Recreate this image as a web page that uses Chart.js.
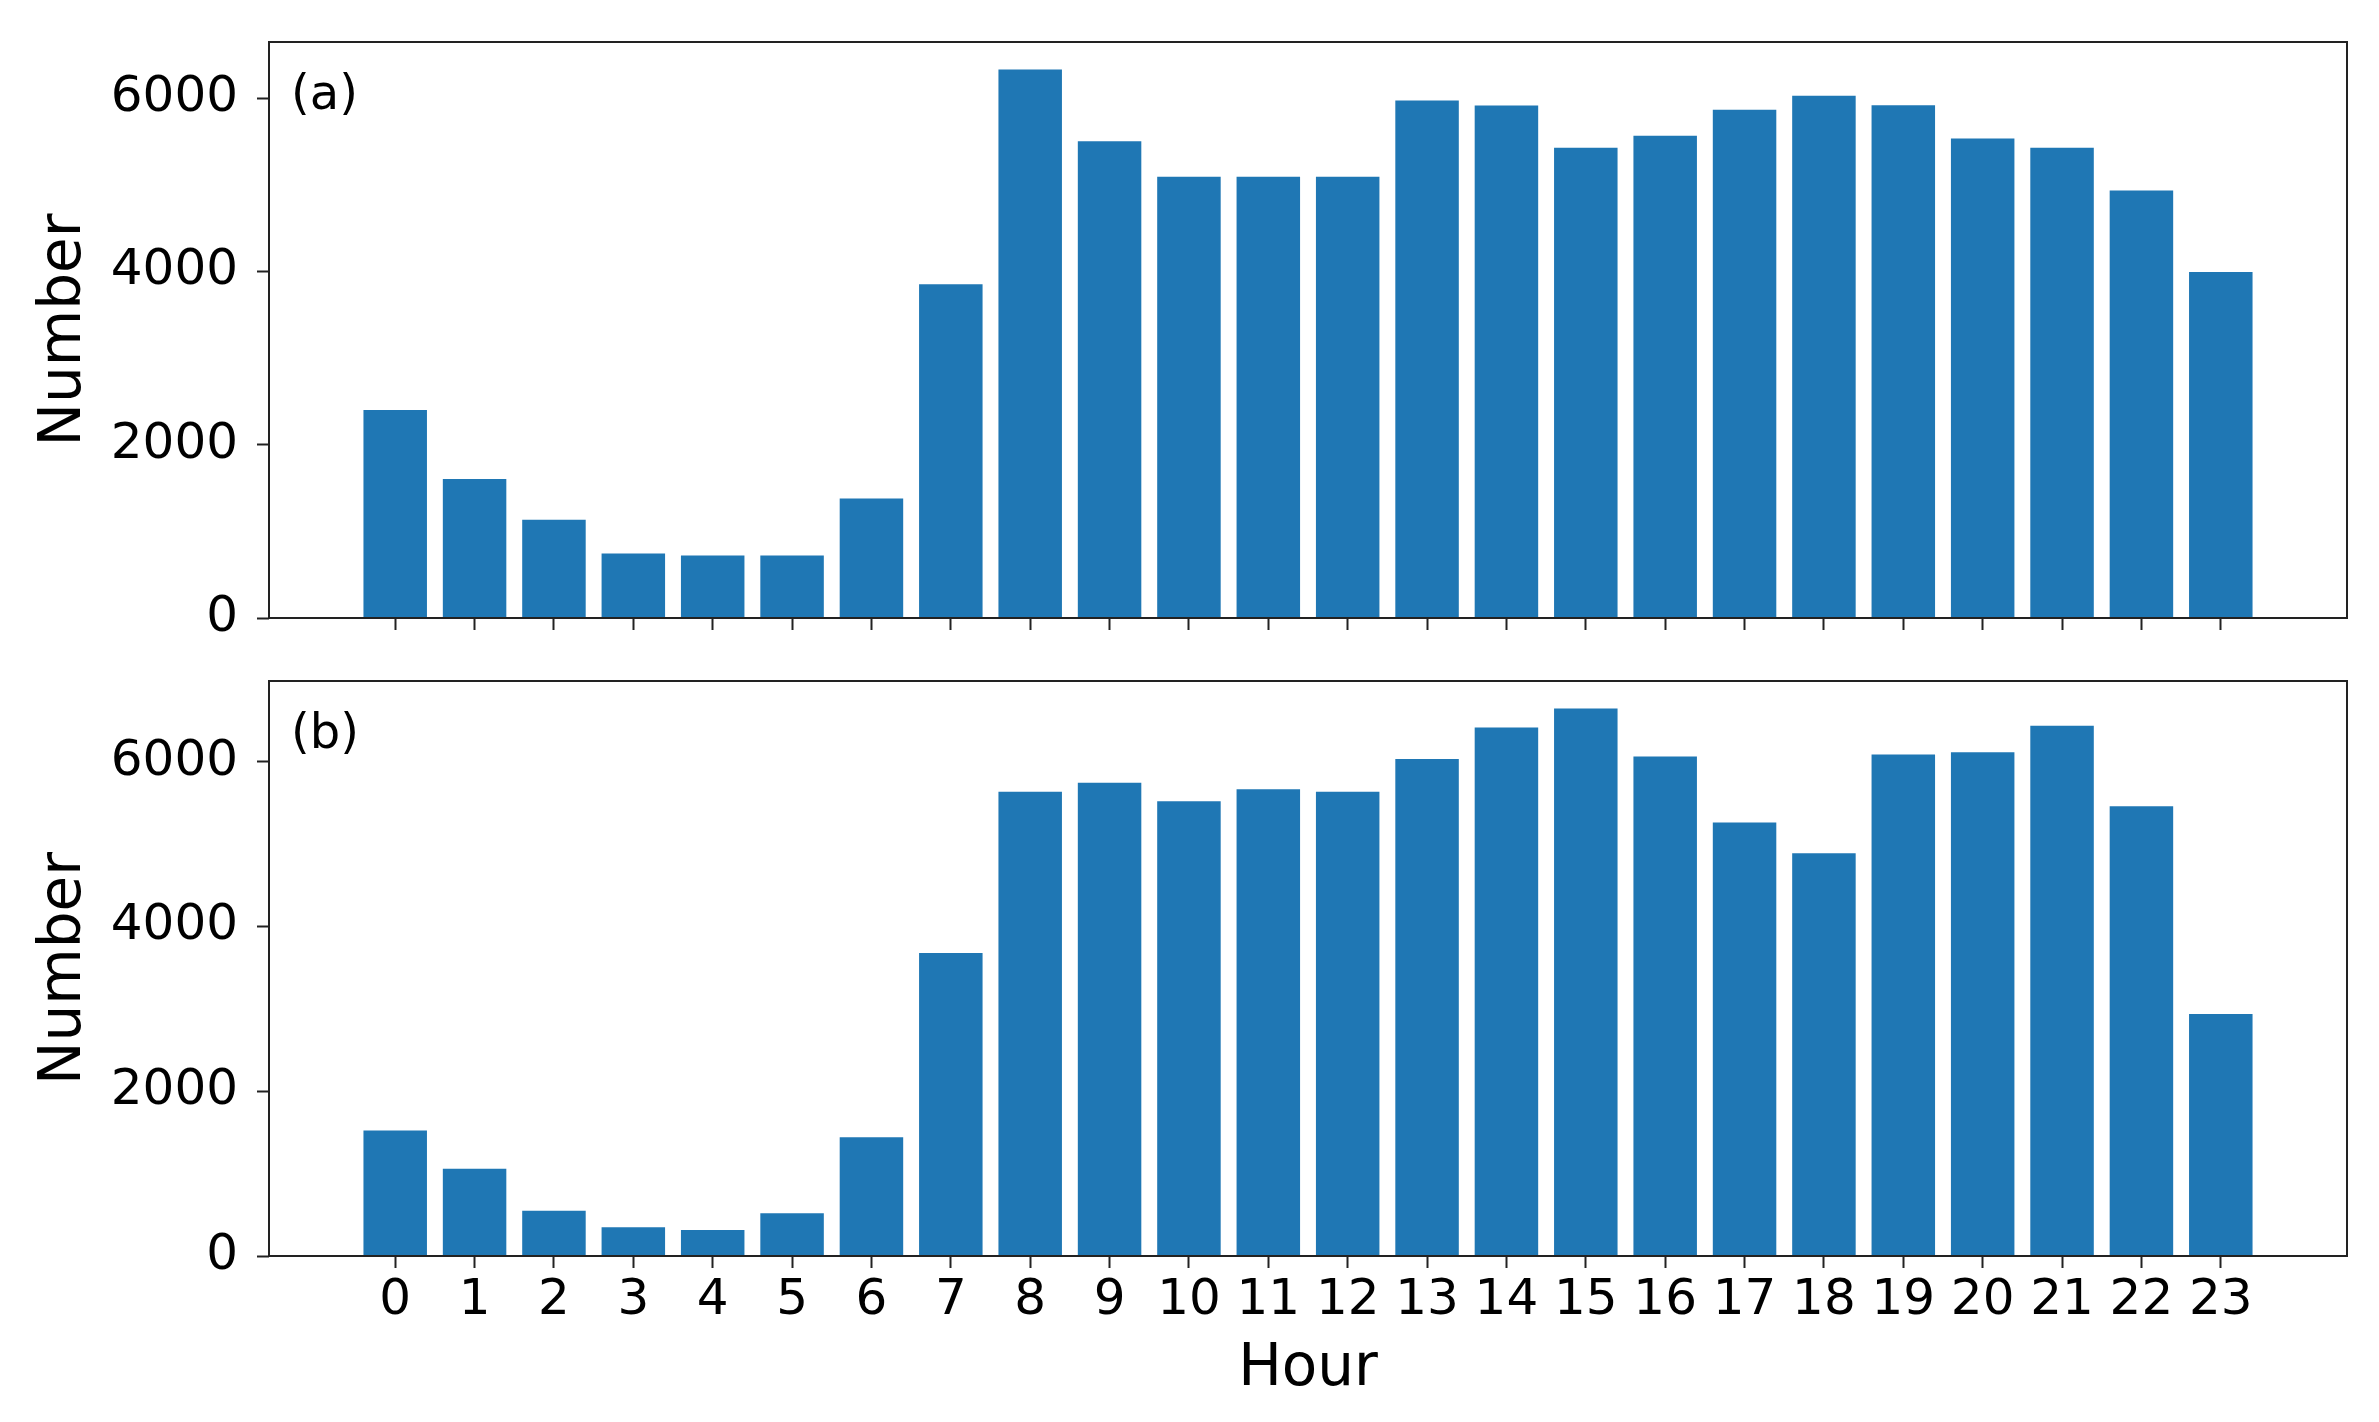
<!DOCTYPE html>
<html>
<head>
<meta charset="utf-8">
<title>Number by hour</title>
<script src="https://cdn.jsdelivr.net/npm/chart.js@4.4.1/dist/chart.umd.min.js"></script>
<style>
  body { margin: 0; background: #fff; }
  canvas { display: block; }
</style>
</head>
<body>
<canvas id="chartA" width="2379" height="650"></canvas>
<canvas id="chartB" width="2379" height="772"></canvas>
<script>
// hours of the day (x axis)
const hours = [0, 1, 2, 3, 4, 5, 6, 7, 8, 9, 10, 11, 12, 13, 14, 15, 16, 17, 18, 19, 20, 21, 22, 23];

// panel (a)
const countsA = [2400, 1605, 1135, 745, 720, 720, 1378, 3852, 6331, 5503, 5092, 5092, 5092, 5972, 5916, 5426, 5565, 5865, 6027, 5917, 5533, 5427, 4934, 3992];
// panel (b)
const countsB = [1524, 1060, 548, 349, 316, 518, 1440, 3676, 5634, 5742, 5518, 5664, 5634, 6032, 6412, 6645, 6060, 5259, 4886, 6084, 6114, 6434, 5458, 2935];

const yTicks = [0, 2000, 4000, 6000];
const panelLabels = ["(a)", "(b)"];

const barColor = "#1f77b4";
const fontFamily = "'DejaVu Sans', sans-serif";

// matplotlib style limits: 0.8 wide bars, 5% margins
const xMin = -0.4 - 0.05 * 23.8;
const xMax = 23.4 + 0.05 * 23.8;

// box around the plot area + the (a)/(b) text
const framePlugin = {
  id: "frame",
  afterDraw(chart, args, opts) {
    const { ctx, chartArea } = chart;
    ctx.save();
    ctx.strokeStyle = "#222";
    ctx.lineWidth = 2;
    ctx.strokeRect(chartArea.left, chartArea.top, chartArea.right - chartArea.left, chartArea.bottom - chartArea.top);
    ctx.fillStyle = "#000";
    ctx.font = "48px " + fontFamily;
    ctx.textBaseline = "alphabetic";
    ctx.textAlign = "left";
    ctx.fillText(opts.text, chartArea.left + 22, chartArea.top + 67);
    ctx.restore();
  },
};

// no extra room for labels at the axis ends, sizes are fixed by hand
function noEdgePadding(axis) {
  axis.paddingTop = 0;
  axis.paddingBottom = 0;
  axis.paddingLeft = 0;
  axis.paddingRight = 0;
}

function makeChart(id, values, label, showXLabels, padTop, xAxisHeight) {
  const yMax = Math.max(...values) * 1.05;
  return new Chart(document.getElementById(id), {
    type: "bar",
    data: {
      datasets: [
        {
          data: hours.map((h, i) => ({ x: h, y: values[i] })),
          backgroundColor: barColor,
          borderWidth: 0,
          barPercentage: 0.8,
          categoryPercentage: 1,
        },
      ],
    },
    options: {
      responsive: false,
      animation: false,
      devicePixelRatio: 1,
      layout: { padding: { left: 0, right: 32, top: padTop, bottom: 0 } },
      plugins: {
        legend: { display: false },
        tooltip: { enabled: false },
        frame: { text: label },
      },
      scales: {
        x: {
          type: "linear",
          offset: false,
          min: xMin,
          max: xMax,
          afterBuildTicks: (axis) => {
            axis.ticks = hours.map((h) => ({ value: h }));
          },
          afterFit: (axis) => {
            axis.height = xAxisHeight;
            noEdgePadding(axis);
          },
          grid: {
            offset: false,
            drawOnChartArea: false,
            drawTicks: true,
            tickLength: 12,
            tickWidth: 2,
            tickColor: "#222",
          },
          border: { display: false },
          ticks: {
            display: showXLabels,
            autoSkip: false,
            maxRotation: 0,
            padding: 3,
            color: "#000",
            font: { family: fontFamily, size: 50 },
            callback: (v) => String(v),
          },
          title: {
            display: showXLabels,
            text: "Hour",
            color: "#000",
            font: { family: fontFamily, size: 58 },
            padding: { top: 0, bottom: 17 },
          },
        },
        y: {
          min: 0,
          max: yMax,
          afterBuildTicks: (axis) => {
            axis.ticks = yTicks.map((v) => ({ value: v }));
          },
          afterFit: (axis) => {
            axis.width = 269;
            noEdgePadding(axis);
          },
          grid: {
            drawOnChartArea: false,
            drawTicks: true,
            tickLength: 12,
            tickWidth: 2,
            tickColor: "#222",
          },
          border: { display: false },
          ticks: {
            padding: 19,
            color: "#000",
            font: { family: fontFamily, size: 50 },
            callback: (v) => String(v),
          },
          title: {
            display: true,
            text: "Number",
            color: "#000",
            font: { family: fontFamily, size: 58 },
            padding: { top: 30, bottom: 0 },
          },
        },
      },
    },
    plugins: [framePlugin],
  });
}

makeChart("chartA", countsA, panelLabels[0], false, 42, 32);
makeChart("chartB", countsB, panelLabels[1], true, 31, 166);
</script>
</body>
</html>
